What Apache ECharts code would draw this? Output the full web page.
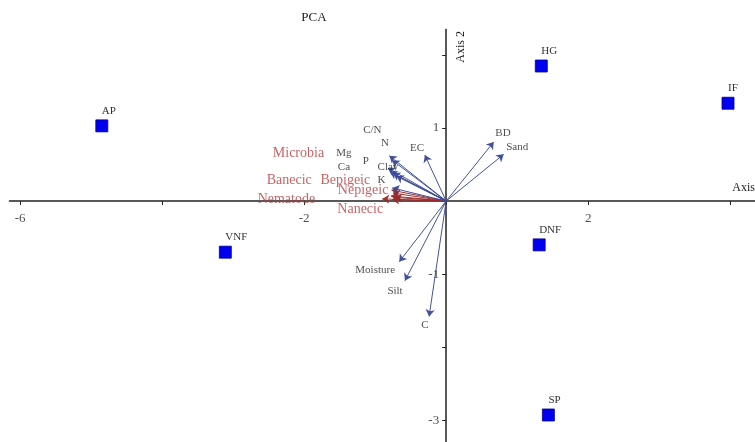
<!DOCTYPE html>
<html>
<head>
<meta charset="utf-8">
<script src="https://cdn.jsdelivr.net/npm/echarts@6/dist/echarts.min.js"></script>
<style>
html, body { margin: 0; padding: 0; background: #fff; }
#chart { width: 755px; height: 442px; }
</style>
</head>
<body>
<div id="chart"></div>
<script>
// sites (scores)
var siteNames = ['AP', 'VNF', 'HG', 'IF', 'DNF', 'SP'];
var siteX = [-4.85, -3.11, 1.34, 3.97, 1.31, 1.44];
var siteY = [1.03, -0.70, 1.85, 1.34, -0.60, -2.93];

// soil variables (arrow tips and label anchors)
var envNames = ['C/N', 'N', 'Mg', 'Ca', 'P', 'Clay', 'K', 'EC', 'BD', 'Sand', 'Moisture', 'Silt', 'C'];
var envX = [-0.80, -0.76, -0.82, -0.79, -0.75, -0.70, -0.76, -0.30, 0.67, 0.81, -0.66, -0.58, -0.24];
var envY = [0.62, 0.56, 0.45, 0.40, 0.38, 0.34, 0.18, 0.63, 0.81, 0.64, -0.83, -1.09, -1.58];
var envLabelX = [-1.04, -0.86, -1.44, -1.44, -1.13, -0.82, -0.91, -0.41, 0.80, 1.00, -1.00, -0.72, -0.30];
var envLabelY = [0.97, 0.79, 0.66, 0.47, 0.55, 0.47, 0.29, 0.73, 0.93, 0.74, -0.95, -1.23, -1.70];

// soil organisms
var bioNames = ['Microbia', 'Banecic', 'Bepigeic', 'Nepigeic', 'Nematode', 'Nanecic'];
var bioX = [-0.75, -0.78, -0.77, -0.72, -0.90, -0.76];
var bioY = [0.11, 0.07, 0.15, 0.05, 0.03, 0.02];
var bioLabelX = [-2.08, -2.21, -1.42, -1.17, -2.25, -1.21];
var bioLabelY = [0.66, 0.29, 0.29, 0.15, 0.03, -0.11];

var xTicks = [-6, -4, -2, 0, 2, 4];
var xLabels = [-6, -2, 2];
var yTicks = [-3, -2, -1, 0, 1, 2];
var yLabels = [-3, -1, 1];

var serif = '"Liberation Serif", "DejaVu Serif", serif';

function arrows(xs, ys) {
	var out = [];
	for (var i = 0; i < xs.length; i++) {
		out.push({ coords: [[0, 0], [xs[i], ys[i]]] });
	}
	return out;
}

function labelPoints(names, xs, ys) {
	var out = [];
	for (var i = 0; i < names.length; i++) {
		out.push({ name: names[i], value: [xs[i], ys[i]] });
	}
	return out;
}

var sites = [];
for (var i = 0; i < siteNames.length; i++) {
	sites.push({ name: siteNames[i], value: [siteX[i], siteY[i]] });
}

// tick labels sit on the axis lines that cross at the origin
var xTickText = [];
for (var i = 0; i < xLabels.length; i++) {
	xTickText.push({ name: String(xLabels[i]), value: [xLabels[i], 0] });
}
var yTickText = [];
for (var i = 0; i < yLabels.length; i++) {
	yTickText.push({ name: String(yLabels[i]), value: [0, yLabels[i]] });
}

var myChart = echarts.init(document.getElementById('chart'));

var option = {
	animation: false,
	backgroundColor: '#fff',
	title: {
		text: 'PCA',
		left: 309,
		top: 6,
		textAlign: 'center',
		textStyle: { fontFamily: serif, fontSize: 13, fontWeight: 'normal', color: '#222' }
	},
	grid: { left: 9.5, right: 0, top: 29.5, bottom: 0, containLabel: false, outerBoundsMode: 'none' },
	xAxis: {
		type: 'value',
		min: -6.15,
		max: 4.35,
		splitLine: { show: false },
		axisLine: { onZero: true, lineStyle: { color: '#222', width: 1.5 } },
		axisTick: { show: true, customValues: xTicks, length: 4, lineStyle: { color: '#222' } },
		axisLabel: { show: false }
	},
	yAxis: {
		type: 'value',
		min: -3.3,
		max: 2.35,
		splitLine: { show: false },
		axisLine: { onZero: true, lineStyle: { color: '#222', width: 1.5 } },
		axisTick: { show: true, customValues: yTicks, length: 4, lineStyle: { color: '#222' } },
		axisLabel: { show: false }
	},
	graphic: [
		{
			type: 'text', left: 455, top: 31, rotation: Math.PI / 2,
			style: { text: 'Axis 2', font: '12px ' + serif, fill: '#222' }
		},
		{
			type: 'text', right: 0, top: 182,
			style: { text: 'Axis', font: '12px ' + serif, fill: '#222' }
		}
	],
	series: [
		{
			name: 'bio',
			type: 'lines',
			coordinateSystem: 'cartesian2d',
			symbol: ['none', 'arrow'],
			symbolSize: 7,
			z: 4,
			lineStyle: { color: '#9a2a2a', width: 1, opacity: 0.95 },
			itemStyle: { color: '#cc1111' },
			data: arrows(bioX, bioY)
		},
		{
			name: 'env',
			type: 'lines',
			coordinateSystem: 'cartesian2d',
			symbol: ['none', 'arrow'],
			symbolSize: 7,
			z: 5,
			lineStyle: { color: '#3a4a96', width: 1, opacity: 0.95 },
			itemStyle: { color: '#1a1aa8' },
			data: arrows(envX, envY)
		},
		{
			name: 'xTickLabels',
			type: 'scatter',
			symbolSize: 0,
			silent: true,
			label: {
				show: true, position: 'bottom', distance: 11, formatter: '{b}',
				fontFamily: serif, fontSize: 13, color: '#222'
			},
			data: xTickText
		},
		{
			name: 'yTickLabels',
			type: 'scatter',
			symbolSize: 0,
			silent: true,
			label: {
				show: true, position: 'left', distance: 7, formatter: '{b}',
				fontFamily: serif, fontSize: 13, color: '#222'
			},
			data: yTickText
		},
		{
			name: 'bioLabels',
			type: 'scatter',
			symbolSize: 0,
			silent: true,
			z: 6,
			label: {
				show: true,
				position: 'inside',
				formatter: '{b}',
				fontFamily: serif,
				fontSize: 14,
				color: '#b83c3c'
			},
			data: labelPoints(bioNames, bioLabelX, bioLabelY)
		},
		{
			name: 'envLabels',
			type: 'scatter',
			symbolSize: 0,
			silent: true,
			z: 6,
			label: {
				show: true,
				position: 'inside',
				formatter: '{b}',
				fontFamily: serif,
				fontSize: 11,
				color: '#222'
			},
			data: labelPoints(envNames, envLabelX, envLabelY)
		},
		{
			name: 'sites',
			type: 'scatter',
			symbol: 'rect',
			symbolSize: 12,
			z: 7,
			itemStyle: { color: '#0000f0', borderColor: '#000090', borderWidth: 0.8, opacity: 1 },
			label: {
				show: true,
				position: 'top',
				align: 'left',
				distance: 3,
				formatter: '{b}',
				fontFamily: serif,
				fontSize: 11,
				color: '#333'
			},
			data: sites
		}
	]
};

myChart.setOption(option);
</script>
</body>
</html>
